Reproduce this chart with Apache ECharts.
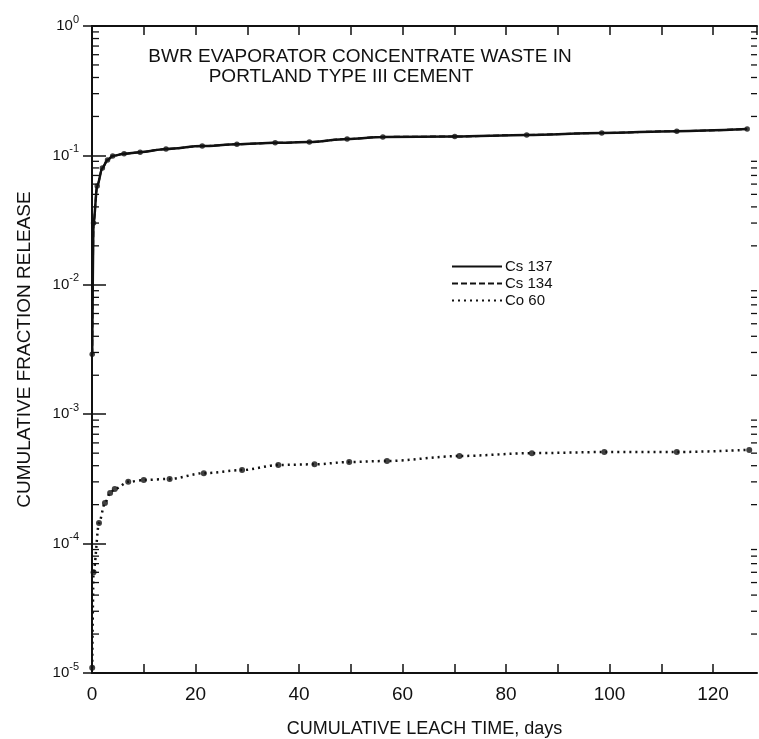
<!DOCTYPE html>
<html>
<head>
<meta charset="utf-8">
<script src="https://cdn.jsdelivr.net/npm/echarts@6/dist/echarts.min.js"></script>
<style>
  html, body { margin: 0; padding: 0; background: #fff; }
  #main { width: 759px; height: 739px; }
</style>
</head>
<body>
<div id="main"></div>
<script>
// 数据
const timeCs = [0.04, 0.3, 1, 2, 3, 4, 6.2, 9.3, 14.3, 21.3, 28, 35.4, 42, 49.3, 56.2, 70.1, 84, 98.5, 113, 126.6];
const cs137 = [0.0029, 0.03, 0.058, 0.08, 0.092, 0.099, 0.103, 0.106, 0.112, 0.118, 0.122, 0.125, 0.127, 0.134, 0.139, 0.14, 0.144, 0.149, 0.154, 0.16];
const cs134 = [0.0029, 0.03, 0.058, 0.08, 0.092, 0.099, 0.103, 0.106, 0.112, 0.118, 0.122, 0.125, 0.127, 0.134, 0.139, 0.14, 0.144, 0.149, 0.154, 0.16];
const timeCo = [0.04, 0.3, 1.35, 2.5, 3.5, 4.4, 7, 10, 15, 21.6, 29, 36, 43, 49.7, 57, 71, 85, 99, 113, 127];
const co60 = [1.1e-5, 6e-5, 1.44e-4, 2.06e-4, 2.46e-4, 2.64e-4, 3.0e-4, 3.1e-4, 3.16e-4, 3.5e-4, 3.7e-4, 4.05e-4, 4.1e-4, 4.27e-4, 4.35e-4, 4.75e-4, 5.0e-4, 5.1e-4, 5.1e-4, 5.3e-4];
const xLabels = [0, 20, 40, 60, 80, 100, 120];
const decades = [1e-5, 1e-4, 1e-3, 1e-2, 1e-1];
const minorSteps = [2, 3, 4, 5, 6, 7, 8, 9];

const FONT = '"Liberation Sans", Arial, sans-serif';
const INK = '#111';

function pairs(xs, ys) {
    return xs.map((x, i) => [x, ys[i]]);
}

// 对数轴的次刻度
const minorTicks = [];
decades.forEach(d => {
    minorSteps.forEach(m => minorTicks.push([0, d * m]));
});

const chart = echarts.init(document.getElementById('main'));

const option = {
    backgroundColor: '#fff',
    animation: false,
    grid: { left: 92, right: 2, top: 26, bottom: 66, outerBoundsMode: 'none' },
    legend: {
        orient: 'vertical',
        left: 446,
        top: 254,
        itemWidth: 50,
        itemHeight: 10,
        itemGap: 2,
        data: ['Cs 137', 'Cs 134', 'Co 60'],
        itemStyle: { opacity: 0 },
        textStyle: { fontFamily: FONT, fontSize: 15, color: INK, padding: [0, 0, 0, -2] }
    },
    graphic: [
        {
            type: 'text', x: 360, y: 57,
            style: { text: 'BWR EVAPORATOR CONCENTRATE WASTE IN', font: '19px ' + FONT, fill: INK, align: 'center', verticalAlign: 'middle' }
        },
        {
            type: 'text', x: 341, y: 77,
            style: { text: 'PORTLAND TYPE III CEMENT', font: '19px ' + FONT, fill: INK, align: 'center', verticalAlign: 'middle' }
        }
    ],
    xAxis: [
        {
            type: 'value',
            min: 0,
            max: 128.5,
            interval: 10,
            name: 'CUMULATIVE LEACH TIME, days',
            nameLocation: 'middle',
            nameGap: 47,
            nameTextStyle: { fontFamily: FONT, fontSize: 18, color: INK },
            axisLine: { lineStyle: { color: INK, width: 2 } },
            axisTick: { inside: true, length: 9, lineStyle: { color: INK, width: 1.5 } },
            axisLabel: {
                fontFamily: FONT, fontSize: 19, color: INK, margin: 12,
                showMaxLabel: false,
                formatter: v => xLabels.indexOf(v) >= 0 ? String(v) : ''
            },
            splitLine: { show: false }
        },
        {
            type: 'value',
            position: 'top',
            min: 0,
            max: 128.5,
            interval: 10,
            axisLine: { lineStyle: { color: INK, width: 2 } },
            axisTick: { inside: true, length: 9, lineStyle: { color: INK, width: 1.5 } },
            axisLabel: { show: false },
            splitLine: { show: false }
        }
    ],
    yAxis: [
        {
            type: 'log',
            logBase: 10,
            min: 1e-5,
            max: 1,
            name: 'CUMULATIVE FRACTION RELEASE',
            nameLocation: 'middle',
            nameGap: 58,
            nameTextStyle: { fontFamily: FONT, fontSize: 19, color: INK },
            axisLine: { lineStyle: { color: INK, width: 2 } },
            axisTick: { inside: true, length: 14, lineStyle: { color: INK, width: 1.5 } },
            axisLabel: {
                margin: 13,
                formatter: v => {
                    const e = Math.round(Math.log10(v));
                    return '{b|10}{s|' + (e === 0 ? '0' : '-' + (-e)) + '}';
                },
                rich: {
                    b: { fontFamily: FONT, fontSize: 15, color: INK, lineHeight: 24, verticalAlign: 'middle' },
                    s: { fontFamily: FONT, fontSize: 11, color: INK, lineHeight: 12, verticalAlign: 'top' }
                }
            },
            splitLine: { show: false }
        },
        {
            type: 'log',
            logBase: 10,
            min: 1e-5,
            max: 1,
            position: 'right',
            axisLine: { lineStyle: { color: INK, width: 2 } },
            axisTick: { inside: true, length: 9, lineStyle: { color: INK, width: 1.5 } },
            axisLabel: { show: false },
            splitLine: { show: false }
        }
    ],
    series: [
        {
            name: 'minor',
            type: 'custom',
            silent: true,
            clip: false,
            data: minorTicks,
            renderItem: function(params, api) {
                const cs = params.coordSys;
                const y = api.coord([0, api.value(1)])[1];
                const st = { stroke: INK, lineWidth: 1.3 };
                return {
                    type: 'group',
                    children: [
                        { type: 'line', shape: { x1: cs.x, y1: y, x2: cs.x + 7, y2: y }, style: st },
                        { type: 'line', shape: { x1: cs.x + cs.width - 6, y1: y, x2: cs.x + cs.width, y2: y }, style: st }
                    ]
                };
            }
        },
        {
            name: 'Cs 137',
            type: 'line',
            data: pairs(timeCs, cs137),
            symbol: 'none',
            smooth: 0.3,
            smoothMonotone: 'x',
            lineStyle: { color: INK, width: 2.5 },
            itemStyle: { color: INK },
            z: 4
        },
        {
            name: 'Cs 134',
            type: 'line',
            data: pairs(timeCs, cs134),
            symbol: 'none',
            smooth: 0.3,
            smoothMonotone: 'x',
            lineStyle: { color: INK, width: 2, type: [6, 3] },
            itemStyle: { color: INK },
            z: 3
        },
        {
            name: 'Co 60',
            type: 'line',
            data: pairs(timeCo, co60),
            symbol: 'none',
            smooth: 0.3,
            smoothMonotone: 'x',
            lineStyle: { color: INK, width: 2.5, type: [2, 4] },
            itemStyle: { color: INK },
            z: 3
        },
        {
            name: 'Cs 137 pts',
            type: 'scatter',
            data: pairs(timeCs, cs137),
            symbolSize: 5.5,
            itemStyle: { color: INK },
            z: 5
        },
        {
            name: 'Co 60 pts',
            type: 'scatter',
            data: pairs(timeCo, co60),
            symbolSize: 6,
            itemStyle: { color: INK },
            z: 5
        }
    ]
};

chart.setOption(option);
</script>
</body>
</html>
